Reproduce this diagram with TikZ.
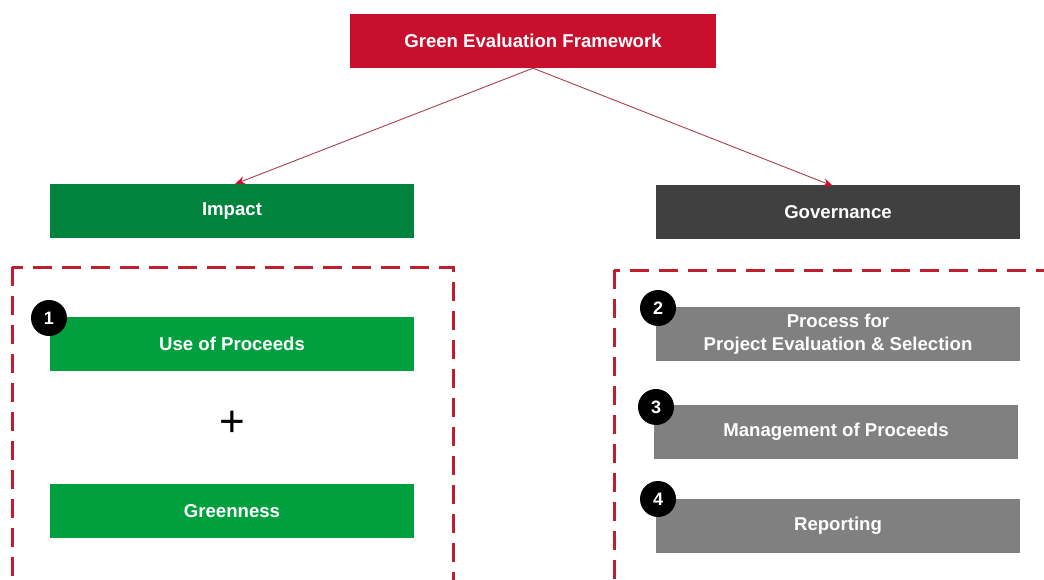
\documentclass[tikz,border=0pt]{standalone}
\usepackage{fontspec}
\setmainfont{Liberation Sans}
\usetikzlibrary{arrows.meta}
\definecolor{fwred}{HTML}{C8102E}
\definecolor{dashred}{HTML}{BE1E2D}
\definecolor{linkred}{HTML}{A8404C}
\definecolor{darkgreen}{HTML}{00843D}
\definecolor{lightgreen}{HTML}{00A03E}
\definecolor{govgray}{HTML}{404040}
\definecolor{midgray}{HTML}{808080}
\tikzset{
  box/.style={rectangle, inner sep=0pt, minimum width=364pt, minimum height=54pt,
    text=white, font=\bfseries\fontsize{18.6}{23}\selectfont, align=center},
  badge/.style={circle, fill=black, inner sep=0pt, minimum size=36pt,
    text=white, font=\bfseries\fontsize{18}{20}\selectfont},
  group/.style={draw=dashred, line width=3pt, dash pattern=on 19pt off 10pt},
  link/.style={draw=linkred, line width=0.9pt, -{Stealth[length=10pt,width=8pt,color=fwred]}}
}
\begin{document}
\begin{tikzpicture}[x=1pt,y=-1pt]
\useasboundingbox (0,0) rectangle (1044,580);
\clip (0,0) rectangle (1044,580);
\fill[white] (0,0) rectangle (1044,580);
% title
\node[box, fill=fwred, minimum width=366pt] (gef) at (533,41) {Green Evaluation Framework};
% pillars
\node[box, fill=darkgreen] (impact) at (232,211) {Impact};
\node[box, fill=govgray] (gov) at (838,212.5) {Governance};
\draw[link] (gef.south) -- (235,184);
\draw[link] (gef.south) -- (833,186);
% dashed groups
\draw[group] (12,267) rectangle (453,600);
\draw[group] (614,270) rectangle (1070,600);
% impact items
\node[box, fill=lightgreen] (uop) at (232,344) {Use of Proceeds};
\node[box, fill=lightgreen] (green) at (232,511) {Greenness};
\node[font=\fontsize{44}{44}\selectfont] (plus) at (232,424) {+};
% governance items
\node[box, fill=midgray] (proc) at (838,334) {Process for\\Project Evaluation \& Selection};
\node[box, fill=midgray] (mgmt) at (836,431.5) {Management of Proceeds};
\node[box, fill=midgray] (rep) at (838,525.5) {Reporting};
% badges
\node[badge] (b1) at (49,318) {1};
\node[badge] (b2) at (658,308) {2};
\node[badge] (b3) at (656,407) {3};
\node[badge] (b4) at (658,499) {4};
\end{tikzpicture}
\end{document}
